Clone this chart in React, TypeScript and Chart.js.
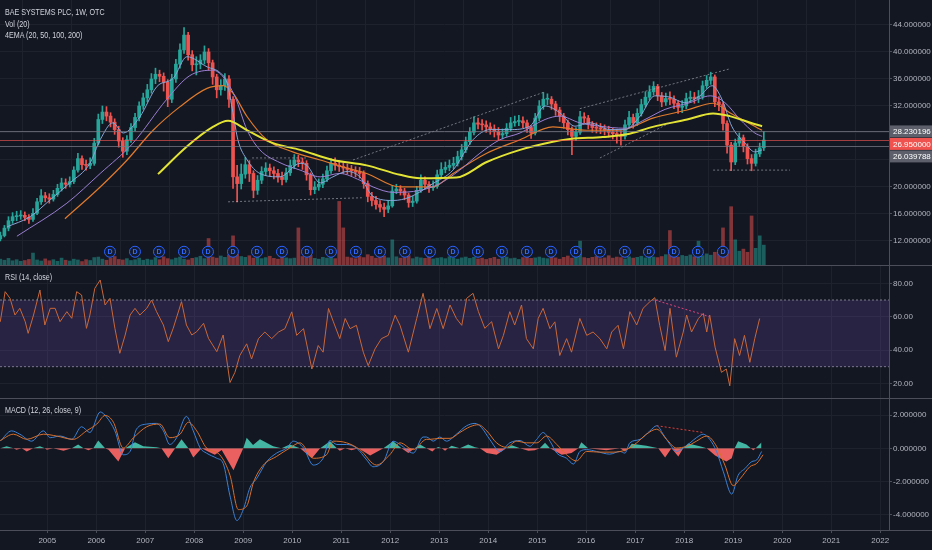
import React, { useEffect, useRef } from "react";
import { Chart, registerables } from "chart.js";

Chart.register(...registerables);

// ---------------- data ----------------
const TITLE = "BAE SYSTEMS PLC, 1W, OTC";
const FIRST_YEAR = 2004; // first monthly candle = Jan 2004
const FIRST_OPEN = 12.3;

const CLOSE = [
  12.8, 13.9, 15.0, 15.6, 15.7, 15.8, 15.5, 15.2, 16.1, 17.8, 18.7, 18.4,
  18.2, 18.9, 19.8, 20.6, 20.4, 20.8, 22.5, 24.2, 23.3, 23.2, 23.5, 26.5,
  30.0, 31.1, 30.5, 29.6, 28.5, 26.8, 25.3, 27.0, 28.8, 30.3, 32.0, 33.2,
  34.4, 36.0, 36.7, 36.4, 35.5, 33.0, 36.0, 38.2, 40.3, 42.5, 39.6, 38.1,
  38.2, 38.8, 40.0, 38.4, 36.3, 34.4, 35.0, 36.0, 33.0, 21.5, 20.5, 21.9,
  23.3, 22.0, 19.5, 21.0, 22.3, 22.8, 22.4, 22.0, 21.5, 21.1, 22.1, 23.2,
  24.0, 23.7, 23.5, 21.8, 19.6, 20.0, 20.4, 21.2, 22.4, 23.5, 23.2, 23.0,
  22.8, 22.6, 22.4, 22.2, 22.0, 20.5, 18.6, 18.0, 17.4, 17.0, 16.7, 17.2,
  19.4, 19.7, 19.4, 18.8, 17.7, 17.9, 19.5, 21.0, 20.4, 19.9, 20.1, 21.8,
  22.6, 22.9, 23.2, 23.5, 24.5, 25.5, 26.7, 28.1, 29.5, 29.3, 29.2, 28.9,
  28.6, 28.2, 27.7, 27.9, 28.7, 29.5, 29.7, 29.8, 29.5, 28.8, 28.0, 30.2,
  32.0, 33.0, 33.0, 32.3, 31.4, 30.5, 29.5, 28.5, 27.5, 28.1, 30.4, 30.2,
  29.3, 28.8, 28.7, 28.6, 28.4, 28.1, 27.9, 27.7, 27.5, 29.2, 30.3, 29.5,
  30.9, 32.2, 33.3, 34.1, 34.9, 33.5, 32.6, 33.1, 33.0, 32.4, 31.8, 32.0,
  33.1, 33.3, 33.1, 33.4, 35.0, 35.8, 36.3, 32.6, 32.2, 29.4, 26.2, 23.7,
  26.5, 27.3, 26.0, 24.2, 23.5, 24.9, 25.8, 26.95,
];

const HIGH = [
  13.3, 14.3, 15.6, 16.2, 16.4, 16.5, 16.3, 15.9, 16.8, 18.3, 19.6, 19.2,
  19.0, 19.5, 20.4, 21.3, 21.2, 21.5, 23.0, 25.0, 24.6, 24.0, 24.3, 27.2,
  30.8, 32.0, 31.9, 31.0, 30.1, 29.0, 27.3, 27.6, 29.4, 30.9, 32.6, 33.9,
  35.2, 36.8, 37.6, 37.3, 36.9, 35.9, 36.7, 38.9, 41.2, 43.6, 42.9, 40.2,
  39.3, 39.6, 40.9, 40.5, 38.8, 36.7, 35.9, 36.8, 36.5, 33.4, 23.2, 23.4,
  24.4, 23.9, 22.4, 21.7, 23.0, 23.6, 23.4, 23.0, 22.6, 22.2, 22.8, 24.0,
  24.8, 24.7, 24.3, 23.9, 22.1, 20.8, 21.2, 21.9, 23.1, 24.2, 24.3, 23.9,
  23.6, 23.4, 23.2, 23.0, 22.9, 22.4, 20.9, 19.2, 18.6, 18.0, 17.6, 18.0,
  20.2, 20.4, 20.2, 19.8, 19.1, 18.6, 20.1, 21.8, 21.5, 20.8, 20.9, 22.5,
  23.6, 23.7, 24.0, 24.4, 25.3, 26.3, 27.4, 28.8, 30.4, 30.2, 30.0, 29.8,
  29.5, 29.2, 28.8, 28.6, 29.4, 30.3, 30.5, 30.6, 30.4, 29.9, 29.1, 30.9,
  32.8, 34.0, 33.8, 33.4, 32.7, 31.8, 30.9, 29.9, 28.9, 28.8, 31.2, 31.0,
  30.6, 29.7, 29.5, 29.4, 29.2, 29.0, 28.7, 28.5, 28.3, 29.9, 31.2, 30.8,
  31.6, 33.0, 34.1, 35.0, 35.6, 35.2, 34.0, 33.9, 34.1, 33.5, 32.8, 32.8,
  33.9, 34.2, 34.0, 34.3, 35.7, 36.5, 37.0, 36.6, 33.4, 32.5, 29.8, 26.6,
  27.1, 28.0, 27.7, 26.4, 24.8, 25.6, 26.5, 28.2,
];

const LOW = [
  12.0, 12.6, 13.5, 14.6, 15.0, 15.2, 15.0, 14.6, 14.9, 15.9, 17.4, 17.8,
  17.6, 17.9, 18.6, 19.4, 19.8, 20.0, 20.5, 22.2, 22.6, 22.5, 22.7, 23.2,
  26.2, 29.4, 29.8, 28.9, 27.8, 25.9, 24.4, 24.8, 26.6, 28.3, 29.8, 31.5,
  32.6, 33.9, 35.3, 35.6, 34.2, 31.9, 32.5, 35.5, 37.6, 39.8, 38.8, 37.2,
  36.6, 37.5, 38.2, 37.3, 35.2, 33.2, 33.6, 34.3, 31.8, 19.8, 17.8, 19.7,
  21.3, 20.8, 18.4, 18.9, 20.5, 21.7, 21.6, 21.2, 20.7, 20.3, 20.7, 21.7,
  22.7, 23.0, 22.6, 21.0, 18.8, 19.0, 19.5, 19.9, 20.8, 22.0, 22.5, 22.3,
  22.0, 21.9, 21.7, 21.5, 21.3, 19.8, 17.8, 17.2, 16.7, 16.3, 15.6, 16.2,
  17.0, 19.0, 18.8, 18.1, 17.0, 17.1, 17.6, 19.2, 19.7, 19.2, 19.5, 19.8,
  21.3, 22.1, 22.4, 22.7, 23.1, 24.0, 25.1, 26.3, 27.7, 28.6, 28.4, 28.1,
  27.8, 27.4, 26.9, 27.1, 27.5, 28.3, 29.0, 29.1, 28.8, 28.1, 27.2, 27.7,
  29.8, 31.5, 32.2, 31.5, 30.6, 29.7, 28.7, 27.7, 24.8, 26.9, 27.8, 29.5,
  28.6, 28.1, 28.0, 27.9, 27.7, 27.4, 27.1, 26.5, 26.2, 27.1, 28.8, 28.7,
  29.1, 30.5, 31.8, 32.9, 33.6, 32.8, 31.9, 32.1, 32.2, 31.6, 30.9, 31.0,
  31.6, 32.6, 32.4, 32.5, 33.0, 34.6, 35.2, 31.9, 31.3, 28.4, 25.0, 22.4,
  23.3, 26.0, 25.2, 23.4, 22.4, 23.1, 24.5, 25.4,
];

const VOLUME = [
  2.2, 1.8, 2.5, 1.6, 2.0, 1.4, 1.7, 2.1, 4.5, 1.9, 1.5, 2.3,
  1.6, 2.0, 1.4, 2.6, 1.8, 1.5, 2.2, 1.9, 1.3, 2.0, 1.7, 2.8,
  3.0, 2.2, 1.8, 2.5, 3.2, 2.1, 1.9, 2.4, 1.7, 2.0, 2.6, 1.8,
  2.2, 1.9, 2.8, 2.0, 3.1, 2.4, 2.0, 2.6, 3.0, 2.2, 1.9, 2.5,
  2.8, 3.3, 2.4, 10, 3.0, 2.6, 3.4, 2.9, 3.8, 11, 4.0, 3.2,
  2.9, 3.5, 2.6, 3.1, 2.4, 2.8, 3.3, 2.5, 2.2, 3.0, 2.7, 2.4,
  2.6, 14, 3.2, 2.8, 3.6, 2.5, 2.2, 2.9, 2.6, 3.1, 2.4, 24,
  14, 3.0, 2.7, 2.4, 3.2, 2.8, 3.9, 3.3, 2.6, 2.9, 3.4, 2.7,
  9.5, 3.1, 2.6, 2.8, 3.5, 2.4, 3.0, 2.7, 2.5, 2.9, 2.3, 2.6,
  2.8, 2.4, 3.1, 2.6, 2.2, 2.7, 3.0, 2.5, 2.9, 2.3, 2.6, 2.1,
  2.5, 2.9, 2.2, 2.7, 3.0, 2.4, 2.6, 2.1, 2.8, 3.2, 2.5, 2.7,
  3.0, 2.6, 2.4, 3.3, 2.7, 2.2, 2.9, 3.4, 2.6, 3.1, 9, 2.8,
  2.5, 2.9, 3.2, 2.4, 2.7, 3.5, 2.6, 3.0, 2.8, 2.3, 3.1, 2.6,
  2.9, 3.3, 2.7, 3.6, 3.0, 2.8, 3.2, 3.9, 13, 3.4, 3.0, 3.6,
  3.3, 3.8, 3.1, 9, 3.5, 4.2, 3.7, 4.8, 4.4, 14, 5.5, 22,
  9.5, 5.2, 6.0, 4.8, 18.5, 6.3, 11, 7.5,
];

const DIVIDENDS = [
  2006.28, 2006.79, 2007.28, 2007.79, 2008.28, 2008.79, 2009.28, 2009.79,
  2010.3, 2010.79, 2011.3, 2011.79, 2012.3, 2012.81, 2013.28, 2013.79,
  2014.28, 2014.79, 2015.28, 2015.79, 2016.28, 2016.79, 2017.28, 2017.79,
  2018.28, 2018.79,
];

const EMA20 = [
  [2004.18, 14.1], [2004.65, 15.6], [2005.06, 18.1], [2005.46, 20.6], [2005.87, 23.5],
  [2006.08, 27], [2006.34, 29.5], [2006.55, 28], [2006.89, 30.4], [2007.24, 34.9],
  [2007.57, 36.1], [2007.85, 39.3], [2008.26, 37.8], [2008.53, 36.9], [2008.67, 35.4],
  [2008.79, 31], [2008.89, 27], [2009.08, 24], [2009.34, 22], [2009.75, 21.5],
  [2010.16, 23.5], [2010.3, 23.2], [2010.57, 20.6], [2010.83, 21.5], [2011.12, 22.3],
  [2011.38, 21.5], [2011.65, 18.6], [2012.06, 18], [2012.4, 18.5], [2012.87, 20.5],
  [2013.28, 22.5], [2013.69, 27], [2014.04, 28.5], [2014.44, 28.5], [2014.85, 29],
  [2015.16, 32], [2015.46, 31], [2015.77, 29], [2016.08, 29.5], [2016.48, 28.5],
  [2016.79, 28.5], [2017.1, 30.5], [2017.4, 33.5], [2017.71, 33.3], [2018.01, 32.5],
  [2018.32, 33.5], [2018.57, 35], [2018.77, 33], [2018.97, 29], [2019.24, 26.5],
  [2019.44, 25.2], [2019.59, 25.5],
];
const EMA50 = [
  [2004.38, 12.7], [2005.4, 17.6], [2006.08, 22], [2006.75, 26.5], [2007.44, 33],
  [2007.91, 36.5], [2008.38, 37.3], [2008.59, 36.3], [2008.83, 33.4], [2009.08, 28.4],
  [2009.34, 25.5], [2009.75, 23.6], [2010.16, 22.5], [2010.57, 21.5], [2010.97, 22],
  [2011.38, 21], [2011.65, 20], [2012.06, 19.2], [2012.61, 19.5], [2013.01, 20.5],
  [2013.42, 22.5], [2013.83, 25], [2014.24, 27], [2014.65, 28], [2015.16, 30],
  [2015.46, 30.5], [2015.87, 29.5], [2016.28, 29], [2016.79, 28.7], [2017.2, 30],
  [2017.61, 31.5], [2018.12, 32.5], [2018.53, 33.5], [2018.83, 32.5], [2019.14, 30],
  [2019.44, 28], [2019.59, 27.5],
];
const EMA100 = [
  [2005.36, 15.3], [2006.08, 20], [2006.63, 24], [2007.16, 28.4], [2007.71, 31.9],
  [2008.26, 34.6], [2008.59, 35], [2008.79, 33.9], [2009.08, 30.4], [2009.48, 27],
  [2010.01, 25.2], [2010.57, 24], [2011.12, 22.8], [2011.52, 22], [2012.2, 20],
  [2012.87, 20], [2013.28, 22], [2013.97, 25], [2014.65, 27], [2015.32, 28.9],
  [2016.01, 28.4], [2016.69, 28.4], [2017.36, 30.2], [2018.06, 31.4], [2018.59, 32.4],
  [2018.93, 31], [2019.59, 28.4],
];
const EMA200 = [
  [2007.26, 21.9], [2007.85, 26], [2008.38, 28.9], [2008.69, 29.8], [2009.08, 28.4],
  [2009.61, 26.5], [2010.16, 25.5], [2010.83, 24], [2011.52, 23.2], [2012.2, 21.8],
  [2012.61, 21.3], [2013.35, 21.4], [2013.97, 23.7], [2014.65, 25.5], [2015.32, 26.7],
  [2015.67, 27.1], [2016.34, 27.4], [2016.83, 27.8], [2017.36, 28.9], [2018.06, 30.0],
  [2018.59, 30.9], [2018.93, 30.5], [2019.4, 29.4], [2019.59, 29.0],
];

const PRICE_TRENDS = [
  [[2008.69, 17.8], [2011.42, 18.4]],
  [[2009.18, 24.3], [2010.3, 24.3]],
  [[2011.24, 24.0], [2015.16, 34.1]],
  [[2015.87, 31.6], [2018.93, 37.5]],
  [[2016.28, 24.3], [2017.71, 29.5]],
  [[2018.59, 22.5], [2020.16, 22.5]],
];

const LEVEL_VALUES = [28.230196, 26.95, 26.039788];
const LEVEL_IS_LAST = [false, true, false];

const RSI = [
  [2004.04, 56.9], [2004.14, 75], [2004.24, 71], [2004.34, 61], [2004.44, 65], [2004.55, 57],
  [2004.61, 50], [2004.72, 61], [2004.85, 76], [2004.95, 55], [2005.06, 65], [2005.16, 65],
  [2005.26, 57], [2005.4, 63], [2005.5, 59], [2005.6, 75], [2005.7, 73], [2005.8, 53],
  [2005.87, 61], [2005.97, 77], [2006.08, 82], [2006.18, 67], [2006.28, 71], [2006.38, 53],
  [2006.48, 38], [2006.59, 49], [2006.69, 61], [2006.79, 65], [2006.89, 61], [2007.03, 65],
  [2007.13, 70], [2007.23, 63], [2007.37, 55], [2007.47, 45], [2007.57, 53], [2007.74, 69],
  [2007.84, 55], [2007.95, 49], [2008.05, 51], [2008.19, 56], [2008.29, 47], [2008.46, 39],
  [2008.59, 49], [2008.73, 20.5], [2008.83, 26.6], [2008.93, 36.7], [2009.07, 43.7],
  [2009.17, 34.6], [2009.31, 46.8], [2009.44, 50.8], [2009.58, 46.8], [2009.72, 50.8],
  [2009.85, 52.8], [2009.99, 62.9], [2010.09, 48.8], [2010.23, 52.8], [2010.4, 28.6],
  [2010.53, 42.7], [2010.63, 38.7], [2010.74, 64.9], [2010.84, 56.9], [2010.97, 46.8],
  [2011.08, 58.9], [2011.18, 52.8], [2011.31, 54.8], [2011.45, 38.7], [2011.55, 30.6],
  [2011.69, 40.7], [2011.82, 46.8], [2011.96, 48.8], [2012.1, 60.9], [2012.2, 54.8],
  [2012.37, 38.7], [2012.54, 58.9], [2012.67, 74], [2012.81, 52.8], [2012.95, 64.9],
  [2013.08, 52.8], [2013.22, 67], [2013.35, 58.9], [2013.46, 54.8], [2013.56, 71],
  [2013.69, 74], [2013.8, 63], [2013.93, 53], [2014.07, 57], [2014.21, 40.7],
  [2014.31, 48.8], [2014.44, 63], [2014.54, 55], [2014.68, 67], [2014.78, 46.8],
  [2014.92, 40.7], [2015.02, 58.9], [2015.12, 65], [2015.26, 52.8], [2015.36, 56.9],
  [2015.46, 36.7], [2015.6, 46.8], [2015.7, 38.7], [2015.87, 58.9], [2016.01, 48.8],
  [2016.14, 50.8], [2016.28, 46.8], [2016.42, 40.7], [2016.52, 50.8], [2016.65, 54.8],
  [2016.76, 40.7], [2016.89, 63], [2017.03, 55], [2017.16, 65], [2017.3, 69],
  [2017.4, 71.4], [2017.5, 54.8], [2017.61, 39.7], [2017.71, 65], [2017.84, 35.7],
  [2017.98, 50.8], [2018.05, 61], [2018.15, 50.8], [2018.29, 58.9], [2018.39, 62],
  [2018.46, 50.8], [2018.52, 61], [2018.63, 41.7], [2018.76, 26.6], [2018.86, 28.6],
  [2018.93, 18.5], [2019.03, 46.8], [2019.13, 36.7], [2019.23, 48.8], [2019.34, 32.6],
  [2019.44, 46.8], [2019.54, 58.9],
];
const RSI_BAND = [30, 70];
const RSI_TREND = [[2017.4, 70], [2018.52, 60]];

const MACD = [
  [2004.04, 0.43], [2004.27, 1.05], [2004.44, 0.85], [2004.68, 0.43], [2004.92, 1.05],
  [2005.06, 0.64], [2005.26, 0.74], [2005.5, 0.54], [2005.7, 1.3], [2005.87, 0.95],
  [2006.08, 2.19], [2006.21, 1.88], [2006.38, 1.05], [2006.55, -0.39], [2006.69, -0.19],
  [2006.82, 1.15], [2007.03, 1.46], [2007.23, 1.5], [2007.37, 1.05], [2007.5, 0.23],
  [2007.64, 0.64], [2007.84, 1.92], [2007.98, 1.05], [2008.12, 0.02], [2008.25, -0.29],
  [2008.46, -0.6], [2008.59, -0.91], [2008.73, -2.87], [2008.87, -4.35], [2009.0, -3.69],
  [2009.14, -2.35], [2009.27, -1.84], [2009.48, -0.8], [2009.68, -0.29], [2009.89, 0.02],
  [2010.02, 0.43], [2010.23, 0.02], [2010.43, -1.01], [2010.63, -0.6], [2010.77, 0.47],
  [2010.91, 0.23], [2011.11, 0.23], [2011.31, 0.02], [2011.52, -0.7], [2011.65, -1.11],
  [2011.86, -0.8], [2012.06, 0.43], [2012.2, 0.23], [2012.47, -0.29], [2012.67, 0.68],
  [2012.74, 0.68], [2012.88, 0.43], [2013.01, 0.68], [2013.15, 0.43], [2013.35, 0.85],
  [2013.56, 1.36], [2013.73, 1.5], [2013.86, 1.26], [2014.03, 0.54], [2014.24, -0.19],
  [2014.44, 0.33], [2014.65, 0.47], [2014.85, 0.12], [2014.99, 0.54], [2015.12, 0.95],
  [2015.26, 0.43], [2015.4, -0.29], [2015.6, -0.6], [2015.74, -0.95], [2015.87, -0.19],
  [2016.01, -0.08], [2016.21, -0.19], [2016.48, -0.35], [2016.69, -0.19], [2016.79, -0.29],
  [2016.89, 0.33], [2017.1, 0.54], [2017.3, 1.05], [2017.44, 1.36], [2017.57, 0.85],
  [2017.71, 0.23], [2017.84, -0.19], [2017.98, 0.02], [2018.12, 0.33], [2018.25, 0.64],
  [2018.39, 0.85], [2018.52, 0.54], [2018.66, -0.19], [2018.8, -1.42], [2018.97, -2.76],
  [2019.1, -1.63], [2019.24, -1.22], [2019.38, -0.8], [2019.48, -0.7], [2019.58, -0.19],
];
const SIGNAL = [
  [2004.04, 0.47], [2004.31, 0.85], [2004.58, 0.54], [2004.92, 0.85], [2005.19, 0.74],
  [2005.53, 0.54], [2005.8, 1.05], [2006.01, 1.46], [2006.18, 1.98], [2006.35, 1.57],
  [2006.55, 0.02], [2006.76, 0.64], [2007.03, 1.3], [2007.3, 1.46], [2007.5, 0.64],
  [2007.71, 0.85], [2007.88, 1.57], [2008.05, 1.05], [2008.25, 0.02], [2008.52, -0.39],
  [2008.73, -1.63], [2008.9, -3.69], [2009.07, -3.48], [2009.21, -2.04], [2009.41, -1.01],
  [2009.68, -0.49], [2009.95, 0.02], [2010.16, 0.33], [2010.43, -0.6], [2010.7, -0.39],
  [2010.84, 0.43], [2011.11, 0.33], [2011.38, -0.08], [2011.72, -1.01], [2011.99, -0.39],
  [2012.2, 0.33], [2012.47, -0.08], [2012.74, 0.54], [2012.81, 0.54], [2013.01, 0.6],
  [2013.22, 0.6], [2013.42, 0.95], [2013.63, 1.3], [2013.8, 1.42], [2013.97, 1.05],
  [2014.17, 0.33], [2014.37, 0.06], [2014.58, 0.43], [2014.78, 0.33], [2014.99, 0.33],
  [2015.19, 0.74], [2015.4, 0.23], [2015.6, -0.39], [2015.8, -0.76], [2016.01, -0.19],
  [2016.28, -0.23], [2016.55, -0.23], [2016.82, -0.08], [2017.03, 0.33], [2017.23, 0.85],
  [2017.44, 1.15], [2017.64, 0.54], [2017.84, 0.02], [2018.05, 0.12], [2018.25, 0.43],
  [2018.46, 0.74], [2018.66, 0.12], [2018.83, -1.01], [2019.0, -2.25], [2019.14, -1.84],
  [2019.34, -1.11], [2019.48, -0.91], [2019.61, -0.39],
];
const HISTOGRAM = [
  [2004.04, 0], [2004.17, 0.12], [2004.31, 0], [2004.37, -0.08], [2004.48, 0],
  [2004.58, -0.19], [2004.71, 0], [2004.85, 0.12], [2004.95, 0], [2004.99, -0.08],
  [2005.12, 0], [2005.33, -0.14], [2005.5, 0], [2005.63, 0.23], [2005.74, 0],
  [2005.84, -0.12], [2005.94, 0], [2006.04, 0.47], [2006.18, 0], [2006.25, -0.08],
  [2006.45, -0.8], [2006.59, 0], [2006.79, 0.37], [2006.96, 0.12], [2007.23, 0.06],
  [2007.33, 0], [2007.47, -0.6], [2007.61, 0], [2007.74, 0.54], [2007.88, 0],
  [2007.98, -0.56], [2008.15, 0], [2008.29, -0.2], [2008.42, -0.39], [2008.56, -0.1],
  [2008.8, -1.32], [2009.0, 0], [2009.07, 0.64], [2009.2, 0.2], [2009.34, 0.54],
  [2009.61, 0.12], [2009.78, 0], [2009.95, 0.23], [2010.16, 0], [2010.4, -0.6],
  [2010.57, 0], [2010.77, 0.43], [2010.91, 0], [2010.97, -0.14], [2011.08, 0],
  [2011.21, -0.12], [2011.35, 0], [2011.59, -0.43], [2011.86, 0], [2012.06, 0.43],
  [2012.23, 0], [2012.37, -0.29], [2012.5, 0], [2012.61, 0.23], [2012.74, 0],
  [2012.86, -0.19], [2012.93, 0], [2012.98, 0.08], [2013.05, 0], [2013.12, -0.14],
  [2013.18, 0], [2013.25, 0.16], [2013.42, 0], [2013.59, 0.23], [2013.73, 0.06],
  [2013.83, 0], [2013.97, -0.29], [2014.17, -0.39], [2014.37, 0], [2014.48, 0.19],
  [2014.65, 0], [2014.82, -0.14], [2014.95, -0.12], [2015.05, 0], [2015.16, 0.33],
  [2015.26, 0], [2015.5, -0.39], [2015.7, -0.29], [2015.84, 0], [2015.9, 0.37],
  [2016.04, 0], [2016.41, -0.12], [2016.69, 0], [2016.79, -0.19], [2016.86, 0],
  [2016.93, 0.27], [2017.23, 0.16], [2017.47, 0], [2017.61, -0.56], [2017.74, 0],
  [2017.88, -0.49], [2017.98, 0], [2018.08, 0.29], [2018.32, 0.12], [2018.46, 0],
  [2018.63, -0.43], [2018.86, -0.8], [2018.97, -0.6], [2019.03, 0], [2019.1, 0.43],
  [2019.27, 0.23], [2019.36, 0], [2019.41, -0.12], [2019.46, 0], [2019.58, 0.37],
];
const MACD_TREND = [[2017.44, 1.36], [2018.39, 0.95]];

const YEAR_TICKS = [2005, 2006, 2007, 2008, 2009, 2010, 2011, 2012, 2013, 2014, 2015, 2016, 2017, 2018, 2019, 2020, 2021, 2022];
const PRICE_TICKS = [12, 16, 20, 24, 28, 32, 36, 40, 44];
const PRICE_TICKS_UNLABELED = [24, 28];
const RSI_TICKS = [20, 40, 60, 80];
const MACD_TICKS = [-4, -2, 0, 2];

// ---------------- view / style ----------------
const VIEW_START = 2004.035;
const VIEW_END = 2022.18;
const PRICE_MIN = 8.44, PRICE_MAX = 47.7;
const RSI_MIN = 11.2, RSI_MAX = 91;
const MACD_MIN = -4.92, MACD_MAX = 3.03;
const VOL_MAX = 100;
const DIV_MARK_LEVEL = 5;

const BG = "#131722";
const GRID = "#1e222d";
const AXIS = "#4c4f5a";
const TEXT = "#b2b5be";
const LABEL = "#d1d4dc";
const UP = "#26a69a";
const DOWN = "#ef5350";
const FONT = "'Liberation Sans', Arial, sans-serif";
const TICK_SIZE = 8;
const AXIS_W = 43;

const monthTime = (i: number) => FIRST_YEAR + (i + 0.5) / 12;
const pts = (arr: number[][]) => arr.map(([x, y]) => ({ x, y }));

function xScale(showLabels: boolean): any {
  return {
    type: "linear",
    min: VIEW_START,
    max: VIEW_END,
    offset: false,
    afterBuildTicks: (s: any) => {
      s.ticks = YEAR_TICKS.map((v) => ({ value: v }));
    },
    ticks: {
      display: showLabels,
      color: TEXT,
      font: { family: FONT, size: TICK_SIZE },
      padding: 3,
      maxRotation: 0,
      autoSkip: false,
      callback: (v: any) => String(v),
    },
    grid: { color: GRID, drawTicks: showLabels, tickLength: 3, tickColor: AXIS },
    border: { display: false },
    afterFit: (s: any) => {
      s.height = showLabels ? 20 : 0;
      s.paddingLeft = 0;
      s.paddingRight = 0;
    },
  };
}

function yScale(min: number, max: number, ticks: number[], fmt: (v: number) => string): any {
  return {
    type: "linear",
    position: "right",
    min,
    max,
    afterBuildTicks: (s: any) => {
      s.ticks = ticks.map((v) => ({ value: v }));
    },
    ticks: { color: TEXT, font: { family: FONT, size: TICK_SIZE }, padding: 1, autoSkip: false, callback: (v: any) => fmt(Number(v)) },
    grid: { color: GRID, tickLength: 3, tickColor: AXIS },
    border: { display: true, color: AXIS },
    afterFit: (s: any) => {
      s.width = AXIS_W;
      s.paddingTop = 0;
      s.paddingBottom = 0;
    },
  };
}

const framePlugin = (topLine: boolean, bottomAxisLine: boolean) => ({
  id: "frame",
  afterDraw(chart: any) {
    const { ctx, chartArea, width } = chart;
    ctx.save();
    ctx.strokeStyle = AXIS;
    ctx.lineWidth = 1;
    ctx.beginPath();
    if (topLine) {
      ctx.moveTo(0, 0.5);
      ctx.lineTo(width, 0.5);
    }
    if (bottomAxisLine) {
      const y = Math.round(chartArea.bottom) + 0.5;
      ctx.moveTo(0, y);
      ctx.lineTo(width, y);
    }
    ctx.stroke();
    ctx.restore();
  },
});

const levelsPlugin = {
  id: "levels",
  afterDatasetsDraw(chart: any) {
    const { ctx, chartArea, width } = chart;
    const ys = chart.scales.y;
    ctx.save();
    LEVEL_VALUES.forEach((v, i) => {
      const y = Math.round(ys.getPixelForValue(v)) + 0.5;
      ctx.strokeStyle = LEVEL_IS_LAST[i] ? "rgba(239,83,80,0.65)" : "rgba(120,123,134,0.75)";
      ctx.lineWidth = 1;
      ctx.beginPath();
      ctx.moveTo(chartArea.left, y);
      ctx.lineTo(chartArea.right, y);
      ctx.stroke();
    });
    const order = LEVEL_VALUES.map((v, i) => ({ v, i, y: ys.getPixelForValue(v) })).sort((a, b) => a.y - b.y);
    const h = 12;
    let prev = -Infinity;
    order.forEach((o) => {
      const cy = Math.max(o.y, prev + h + 0.5);
      prev = cy;
      ctx.fillStyle = LEVEL_IS_LAST[o.i] ? "#f0534f" : "#5d606b";
      ctx.fillRect(chartArea.right + 1, cy - h / 2, width - chartArea.right - 1, h);
      ctx.fillStyle = "#ffffff";
      ctx.font = `${TICK_SIZE}px ${FONT}`;
      ctx.textBaseline = "middle";
      ctx.textAlign = "left";
      ctx.fillText(o.v.toFixed(6), chartArea.right + 4, cy + 0.5);
    });
    chart.data.datasets.forEach((ds: any, di: number) => {
      if (ds.label !== "Dividends") return;
      const meta = chart.getDatasetMeta(di);
      ctx.fillStyle = "#2f6bff";
      ctx.font = `bold 7px ${FONT}`;
      ctx.textAlign = "center";
      ctx.textBaseline = "middle";
      meta.data.forEach((el: any) => ctx.fillText("D", el.x, el.y + 0.5));
    });
    ctx.restore();
  },
};

const baseOptions = (scales: any): any => ({
  responsive: false,
  animation: false,
  events: [],
  layout: { padding: 0, autoPadding: false },
  plugins: { legend: { display: false }, tooltip: { enabled: false } },
  scales,
});

function mainConfig(): any {
  const opens = CLOSE.map((c, i) => (i === 0 ? FIRST_OPEN : CLOSE[i - 1]));
  const colors = CLOSE.map((c, i) => (c >= opens[i] ? UP : DOWN));
  const volColors = CLOSE.map((c, i) => (c >= opens[i] ? "rgba(38,166,154,0.5)" : "rgba(239,83,80,0.5)"));
  const line = (data: number[][], color: string, width: number, order: number) => ({
    type: "line",
    data: pts(data),
    borderColor: color,
    borderWidth: width,
    pointRadius: 0,
    cubicInterpolationMode: "monotone",
    yAxisID: "y",
    order,
  });
  const trends = PRICE_TRENDS.map((t) => ({
    type: "line",
    data: pts(t),
    borderColor: "rgba(190,193,200,0.55)",
    borderWidth: 1,
    borderDash: [2, 2],
    pointRadius: 0,
    yAxisID: "y",
    order: 1,
  }));
  return {
    type: "bar",
    data: {
      datasets: [
        {
          label: "Dividends",
          type: "scatter",
          data: DIVIDENDS.map((x) => ({ x, y: DIV_MARK_LEVEL })),
          yAxisID: "yVol",
          pointRadius: 5.5,
          pointBorderWidth: 1,
          borderColor: "#2962ff",
          backgroundColor: "#151b2e",
          order: 0,
        },
        ...trends,
        line(EMA20, "#86a6d8", 1, 3),
        line(EMA50, "#9b7fd4", 1, 4),
        line(EMA100, "#e07a2c", 1.2, 5),
        line(EMA200, "#e3e336", 2, 2),
        {
          label: "Bodies",
          data: CLOSE.map((c, i) => ({ x: monthTime(i), y: [opens[i], c] })),
          backgroundColor: colors,
          barThickness: 3,
          minBarLength: 1,
          grouped: false,
          yAxisID: "y",
          order: 6,
        },
        {
          label: "Wicks",
          data: LOW.map((l, i) => ({ x: monthTime(i), y: [l, HIGH[i]] })),
          backgroundColor: colors,
          barThickness: 1,
          grouped: false,
          yAxisID: "y",
          order: 7,
        },
        {
          label: "Volume",
          data: VOLUME.map((v, i) => ({ x: monthTime(i), y: v })),
          backgroundColor: volColors,
          barThickness: 3,
          grouped: false,
          yAxisID: "yVol",
          order: 10,
        },
      ],
    },
    options: baseOptions({
      x: xScale(false),
      y: yScale(PRICE_MIN, PRICE_MAX, PRICE_TICKS, (v) => (PRICE_TICKS_UNLABELED.includes(v) ? "" : v.toFixed(6))),
      yVol: { type: "linear", display: false, min: 0, max: VOL_MAX },
    }),
    plugins: [levelsPlugin],
  };
}

function rsiConfig(): any {
  const band = (v: number, fill: any) => ({
    data: [{ x: VIEW_START, y: v }, { x: VIEW_END, y: v }],
    borderColor: "rgba(150,153,163,0.8)",
    borderWidth: 1,
    borderDash: [2, 2],
    pointRadius: 0,
    fill,
    backgroundColor: "rgba(126,87,194,0.2)",
    order: 5,
  });
  return {
    type: "line",
    data: {
      datasets: [
        band(RSI_BAND[1], "+1"),
        band(RSI_BAND[0], false),
        { data: pts(RSI), borderColor: "#c9683a", borderWidth: 1, pointRadius: 0, tension: 0, order: 1 },
        { data: pts(RSI_TREND), borderColor: "#e0457a", borderWidth: 1, borderDash: [2, 2], pointRadius: 0, order: 0 },
      ],
    },
    options: baseOptions({
      x: xScale(false),
      y: yScale(RSI_MIN, RSI_MAX, RSI_TICKS, (v) => v.toFixed(2)),
    }),
    plugins: [framePlugin(true, false)],
  };
}

function macdConfig(): any {
  return {
    type: "line",
    data: {
      datasets: [
        {
          data: pts(HISTOGRAM),
          borderWidth: 0,
          borderColor: "rgba(0,0,0,0)",
          pointRadius: 0,
          tension: 0,
          fill: { target: { value: 0 }, above: "rgba(70,190,170,0.95)", below: "rgba(245,100,100,0.95)" },
          order: 5,
        },
        { data: pts(MACD), borderColor: "#3b82d8", borderWidth: 1, pointRadius: 0, cubicInterpolationMode: "monotone", order: 2 },
        { data: pts(SIGNAL), borderColor: "#d9702c", borderWidth: 1, pointRadius: 0, cubicInterpolationMode: "monotone", order: 1 },
        { data: pts(MACD_TREND), borderColor: "#e0403a", borderWidth: 1, borderDash: [2, 2], pointRadius: 0, order: 0 },
      ],
    },
    options: baseOptions({
      x: xScale(true),
      y: yScale(MACD_MIN, MACD_MAX, MACD_TICKS, (v) => v.toFixed(6)),
    }),
    plugins: [framePlugin(true, true)],
  };
}

const labelStyle = (top: number): React.CSSProperties => ({
  position: "absolute",
  left: 5,
  top,
  color: LABEL,
  fontSize: 8.5,
  lineHeight: "11px",
  fontFamily: FONT,
  whiteSpace: "nowrap",
  pointerEvents: "none",
  transform: "scaleX(0.84)",
  transformOrigin: "left center",
});

export default function App() {
  const mainRef = useRef<HTMLCanvasElement>(null);
  const rsiRef = useRef<HTMLCanvasElement>(null);
  const macdRef = useRef<HTMLCanvasElement>(null);

  useEffect(() => {
    document.body.style.margin = "0";
    document.body.style.background = BG;
    const charts = [
      new Chart(mainRef.current as HTMLCanvasElement, mainConfig()),
      new Chart(rsiRef.current as HTMLCanvasElement, rsiConfig()),
      new Chart(macdRef.current as HTMLCanvasElement, macdConfig()),
    ];
    return () => charts.forEach((c) => c.destroy());
  }, []);

  return (
    <div style={{ position: "relative", width: 932, height: 550, background: BG, overflow: "hidden" }}>
      <canvas ref={mainRef} width={932} height={265} style={{ position: "absolute", left: 0, top: 0 }} />
      <canvas ref={rsiRef} width={932} height={133} style={{ position: "absolute", left: 0, top: 265 }} />
      <canvas ref={macdRef} width={932} height={152} style={{ position: "absolute", left: 0, top: 398 }} />
      <div style={labelStyle(6.5)}>{TITLE}</div>
      <div style={labelStyle(18.5)}>Vol (20)</div>
      <div style={labelStyle(30)}>4EMA (20, 50, 100, 200)</div>
      <div style={labelStyle(271.5)}>RSI (14, close)</div>
      <div style={labelStyle(404.5)}>MACD (12, 26, close, 9)</div>
    </div>
  );
}
